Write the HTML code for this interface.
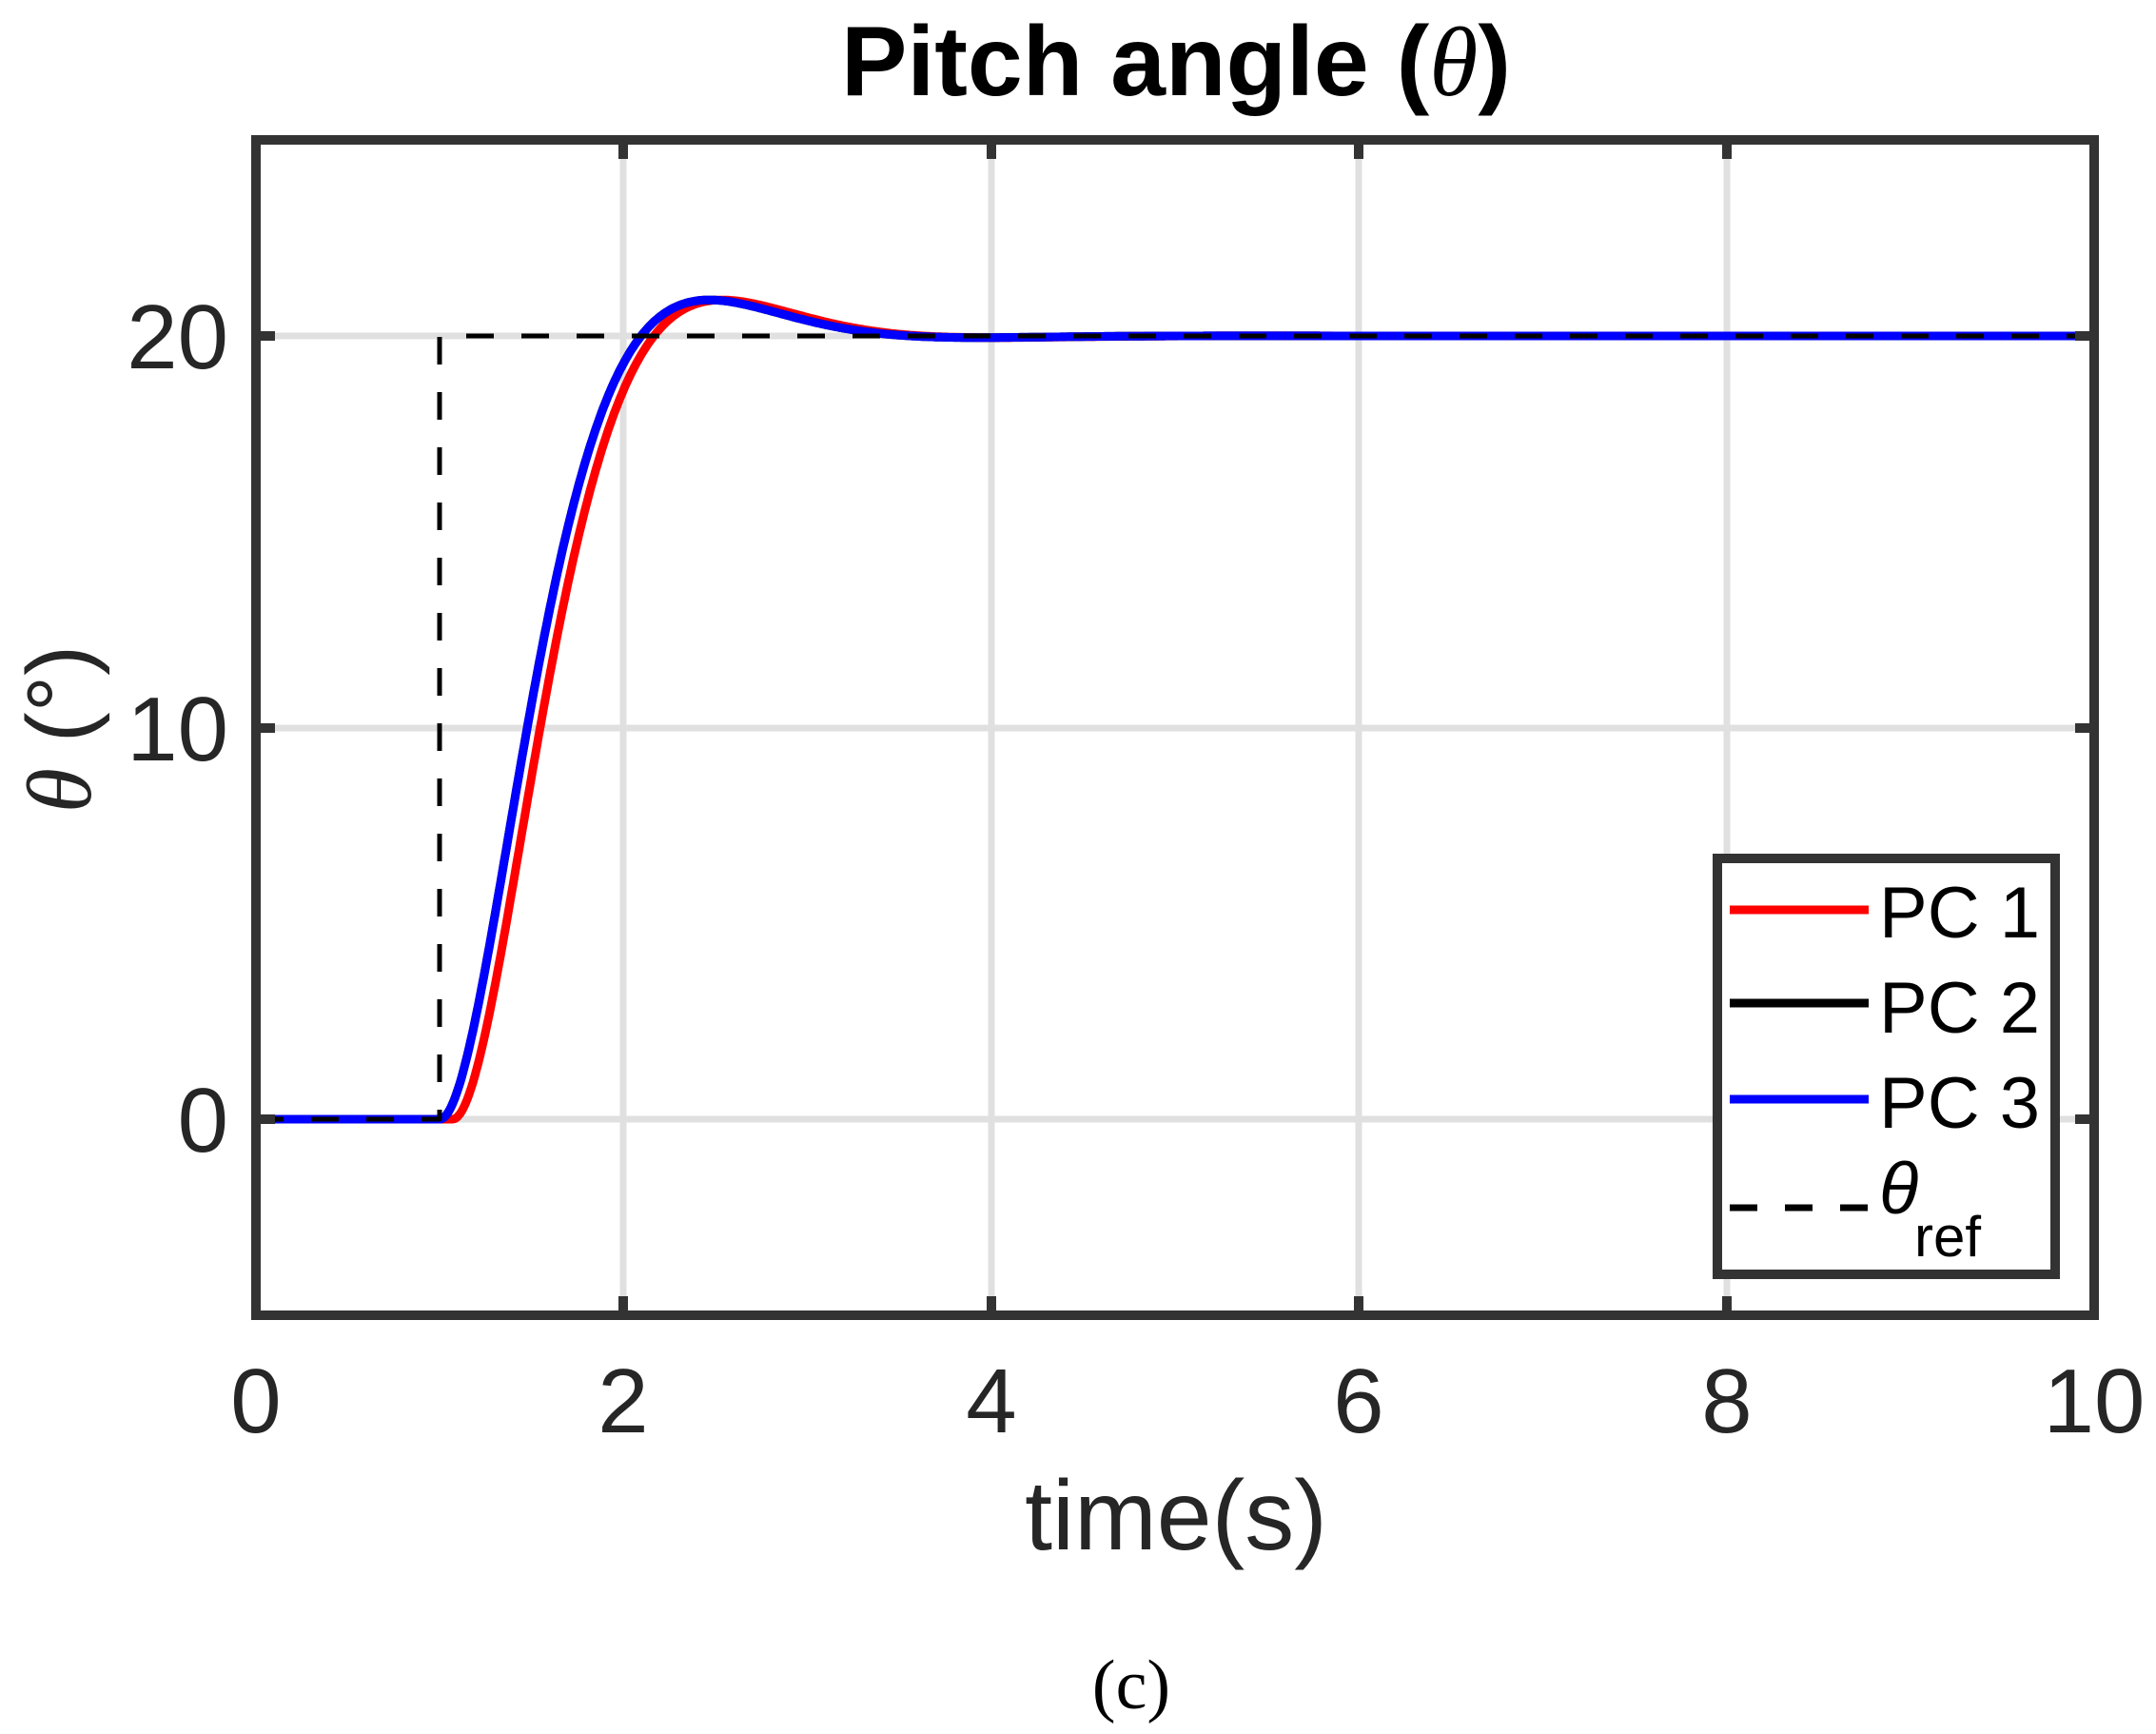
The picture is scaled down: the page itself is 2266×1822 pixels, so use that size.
<!DOCTYPE html>
<html><head><meta charset="utf-8"><style>
html,body{margin:0;padding:0;background:#fff;width:2266px;height:1822px;overflow:hidden}
svg{display:block}
text{font-family:"Liberation Sans",Arial,sans-serif;fill:#262626}
</style></head><body>
<svg id="s" width="2266" height="1822" viewBox="0 0 2266 1822" xmlns="http://www.w3.org/2000/svg">
<rect width="2266" height="1822" fill="#fff"/>
<defs><clipPath id="c"><rect x="269" y="147" width="1932" height="1235"/></clipPath></defs>
<g stroke="#e0e0e0" stroke-width="7">
<line x1="655" y1="147" x2="655" y2="1382"/>
<line x1="1042" y1="147" x2="1042" y2="1382"/>
<line x1="1428" y1="147" x2="1428" y2="1382"/>
<line x1="1815" y1="147" x2="1815" y2="1382"/>
<line x1="269" y1="353" x2="2201" y2="353"/>
<line x1="269" y1="765" x2="2201" y2="765"/>
<line x1="269" y1="1176" x2="2201" y2="1176"/>
</g>
<g clip-path="url(#c)" fill="none" stroke-linejoin="round">
<path id="r" stroke="#ff0000" stroke-width="9"/>
<path id="k" stroke="#000" stroke-width="9"/>
<path id="b" stroke="#0000ff" stroke-width="9"/>
<path d="M269,1176 L462,1176 L462,353 L2201,353" stroke="#000" stroke-width="5" stroke-dasharray="29,29"/>
</g>
<g stroke="#333" stroke-width="10" fill="none">
<rect x="269" y="147" width="1932" height="1235"/>
<path d="M655,147v20M1042,147v20M1428,147v20M1815,147v20M655,1382v-20M1042,1382v-20M1428,1382v-20M1815,1382v-20M269,353h20M269,765h20M269,1176h20M2201,353h-20M2201,765h-20M2201,1176h-20"/>
</g>
<rect x="1805" y="902" width="355" height="437" fill="#fff" stroke="#333" stroke-width="10"/>
<g stroke-width="9">
<line x1="1818" y1="956" x2="1964" y2="956" stroke="#ff0000"/>
<line x1="1818" y1="1054" x2="1964" y2="1054" stroke="#000"/>
<line x1="1818" y1="1155" x2="1964" y2="1155" stroke="#0000ff"/>
<line x1="1818" y1="1269" x2="1964" y2="1269" stroke="#000" stroke-width="7" stroke-dasharray="29,29"/>
</g>
<g font-size="76">
<text x="1975" y="985" style="fill:#000">PC 1</text>
<text x="1975" y="1085" style="fill:#000">PC 2</text>
<text x="1975" y="1185" style="fill:#000">PC 3</text>
<text x="1975" y="1275" font-family="Liberation Serif" font-style="italic" style="fill:#000">θ</text>
<text x="2012" y="1320" font-size="60" style="fill:#000">ref</text>
</g>
<g font-size="96" text-anchor="middle">
<text x="269" y="1505">0</text>
<text x="655" y="1505">2</text>
<text x="1042" y="1505">4</text>
<text x="1428" y="1505">6</text>
<text x="1815" y="1505">8</text>
<text x="2201" y="1505">10</text>
</g>
<g font-size="96" text-anchor="end">
<text x="240" y="387">20</text>
<text x="240" y="799">10</text>
<text x="240" y="1210">0</text>
</g>
<text x="1236" y="1628" font-size="104" text-anchor="middle">time(s)</text>
<text transform="translate(95,766) rotate(-90)" font-size="96" text-anchor="middle"><tspan font-family="Liberation Serif" font-style="italic">θ</tspan> (°)</text>
<text x="1236" y="100" font-size="104" font-weight="bold" text-anchor="middle" style="fill:#000">Pitch angle (<tspan font-family="Liberation Serif" font-style="italic" font-weight="normal">θ</tspan>)</text>
<text x="1189" y="1795" font-size="74" text-anchor="middle" style="fill:#000;font-family:'Liberation Serif',serif">(c)</text>
</svg>
<script>
function resp(t,d){var tt=t-1-d;if(tt<=0)return 0;var z=0.7,w=3.0,wd=w*Math.sqrt(1-z*z);
return 20*(1-Math.exp(-z*w*tt)*(Math.cos(wd*tt)+z/Math.sqrt(1-z*z)*Math.sin(wd*tt)));}
function path(d){var s="";for(var i=0;i<=1000;i++){var t=i/100;var x=269+193.2*t;var y=1176-41.15*resp(t,d);s+=(i?"L":"M")+x.toFixed(1)+","+y.toFixed(1);}return s;}
document.getElementById("r").setAttribute("d",path(0.07));
document.getElementById("k").setAttribute("d",path(0.0));
document.getElementById("b").setAttribute("d",path(0.0));
</script>
</body></html>
